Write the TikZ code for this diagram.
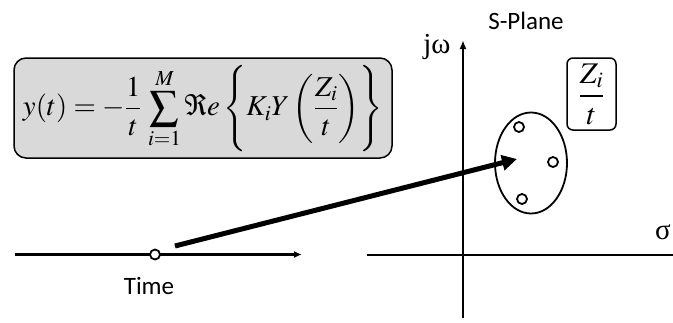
\documentclass[tikz,border=0pt]{standalone}
\usepackage{amsmath}
\usepackage{graphicx}
\usepackage{mathptmx}
\usepackage[no-math]{fontspec}
\setmainfont{Liberation Serif}
\newfontfamily\labelfont{Carlito}
\usetikzlibrary{arrows.meta,shapes.geometric}
\tikzset{
  axis/.style={line width=2.2pt},
  ring/.style={circle,draw,line width=1.8pt,fill=white,minimum size=10pt,inner sep=0pt},
  lbl/.style={font=\labelfont\fontsize{25}{28}\selectfont,inner sep=0pt},
  grk/.style={font=\fontsize{29}{32}\selectfont,inner sep=0pt},
}
\begin{document}
\begin{tikzpicture}[x=1pt,y=-1pt]
\useasboundingbox (0,0) rectangle (673,322);
% formula box
\node[draw,line width=1.5pt,rounded corners=12pt,fill=black!15,minimum width=378pt,minimum height=100pt,inner sep=0pt] (formula) at (203,108)
  {\resizebox{360pt}{!}{\fontsize{30}{34}\selectfont$\displaystyle y(t)=-\frac{1}{t}\,\sum_{i=1}^{M}\Re e\left\{\rule[-1.1em]{0pt}{2.9em}K_iY\left(\frac{Z_i}{t}\right)\right\}$}};
% time axis
\coordinate (t0) at (15,254.5);
\coordinate (t1) at (302,254.5);
\draw[axis,-{Latex[length=8pt,width=7pt]}] (t0) -- (t1);
\node[ring] (tp) at (155,254.5) {};
\node[lbl] (time) at (149,286) {Time};
% s-plane axes
\coordinate (s0) at (367,255);
\coordinate (s1) at (673,255);
\draw[axis] (s0) -- (s1);
\coordinate (v0) at (463,318);
\coordinate (v1) at (463,40);
\draw[axis,-{Latex[length=9pt,width=7pt]}] (v0) -- (v1);
\node[lbl] (splane) at (526,21) {S-Plane};
\node[grk] (jw) at (437,47) {jω};
\node[grk] (sigma) at (663,232) {σ};
% ellipse with poles
\node[ellipse,draw,line width=1.8pt,minimum width=72pt,minimum height=101pt,inner sep=0pt] (ell) at (531,163) {};
\node[ring] (p1) at (519,127) {};
\node[ring] (p2) at (553,162) {};
\node[ring] (p3) at (522,199) {};
\coordinate (tip) at (517,159);
% Zi/t box
\node[draw,line width=1.5pt,rounded corners=6pt,minimum width=49pt,minimum height=72pt,inner sep=0pt] (zbox) at (591.5,94)
  {\fontsize{30}{34}\selectfont$\dfrac{Z_i}{t}$};
% thick arrow
\coordinate (a0) at (175,246);
\draw[line width=5pt,-{Triangle[length=15pt,width=15pt]}] (a0) -- (tip);
\end{tikzpicture}
\end{document}
